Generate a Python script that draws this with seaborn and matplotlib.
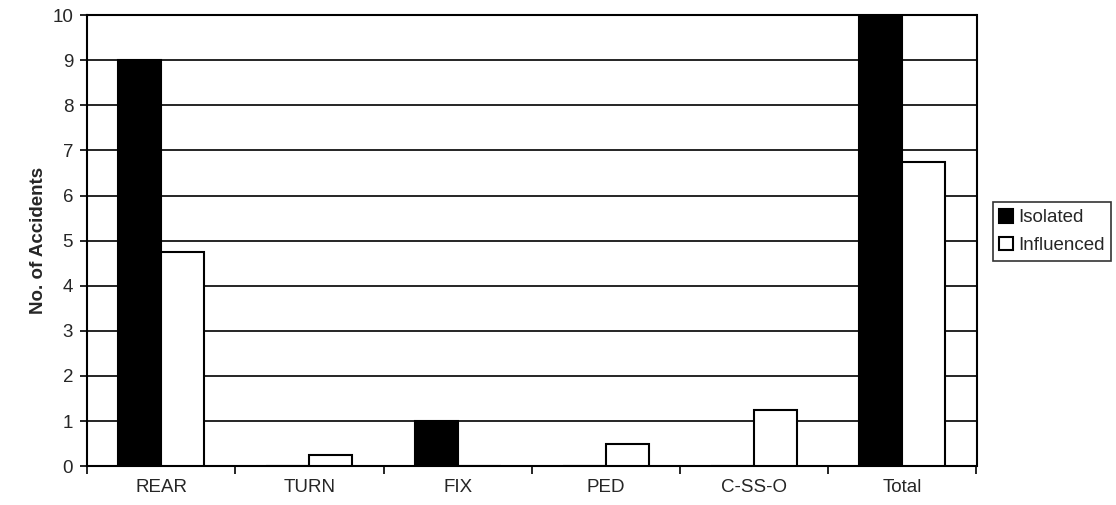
import numpy as np
import pandas as pd
import matplotlib
matplotlib.use("Agg")
import matplotlib.pyplot as plt
import seaborn as sns
from matplotlib.ticker import FixedLocator

# data
categories = ["REAR", "TURN", "FIX", "PED", "C-SS-O", "Total"]
isolated = [9, 0, 1, 0, 0, 10]
influenced = [4.75, 0.25, 0, 0.5, 1.25, 6.75]
series = ["Isolated", "Influenced"]

df = pd.DataFrame({
    "Category": categories * 2,
    "Accidents": isolated + influenced,
    "Series": [series[0]] * len(categories) + [series[1]] * len(categories),
})

sns.set_style("white")
plt.rcParams["font.family"] = ["Liberation Sans", "DejaVu Sans"]

fig = plt.figure(figsize=(11.16, 5.05), dpi=100)
ax = fig.add_axes([0.078, 0.077, 0.797, 0.893])

sns.barplot(data=df, x="Category", y="Accidents", hue="Series",
            palette=["black", "white"], edgecolor="black", linewidth=1.5,
            width=0.58, gap=0, ax=ax, zorder=3)

ax.set_ylim(0, 10)
ax.set_xlim(-0.5, len(categories) - 0.5)
ax.set_yticks(range(0, 11))
ax.yaxis.grid(True, color="black", linewidth=1.2, zorder=0)
ax.set_axisbelow(True)

ax.set_xlabel("")
ax.set_ylabel("No. of Accidents", fontsize=13.5, fontweight="bold", labelpad=4)

# ticks between categories
ax.xaxis.set_minor_locator(FixedLocator(np.arange(-0.5, len(categories), 1.0)))
ax.tick_params(axis="x", which="major", length=0, labelsize=13.5, pad=9)
ax.tick_params(axis="x", which="minor", length=6, width=1.2, direction="out", color="black", bottom=True)
ax.tick_params(axis="y", length=5, width=1.2, direction="out", color="black", labelsize=13.5, left=True, pad=5)

for s in ax.spines.values():
    s.set_color("black")
    s.set_linewidth(1.5)

leg = ax.legend(loc="upper left", bbox_to_anchor=(1.018, 0.585), frameon=True,
                fontsize=13.5, handlelength=0.75, handleheight=0.75, handletextpad=0.25,
                borderpad=0.35, labelspacing=0.55, fancybox=False, borderaxespad=0)
leg.get_frame().set_edgecolor("black")
leg.get_frame().set_linewidth(1.2)

fig.savefig("out.png", dpi=100)
